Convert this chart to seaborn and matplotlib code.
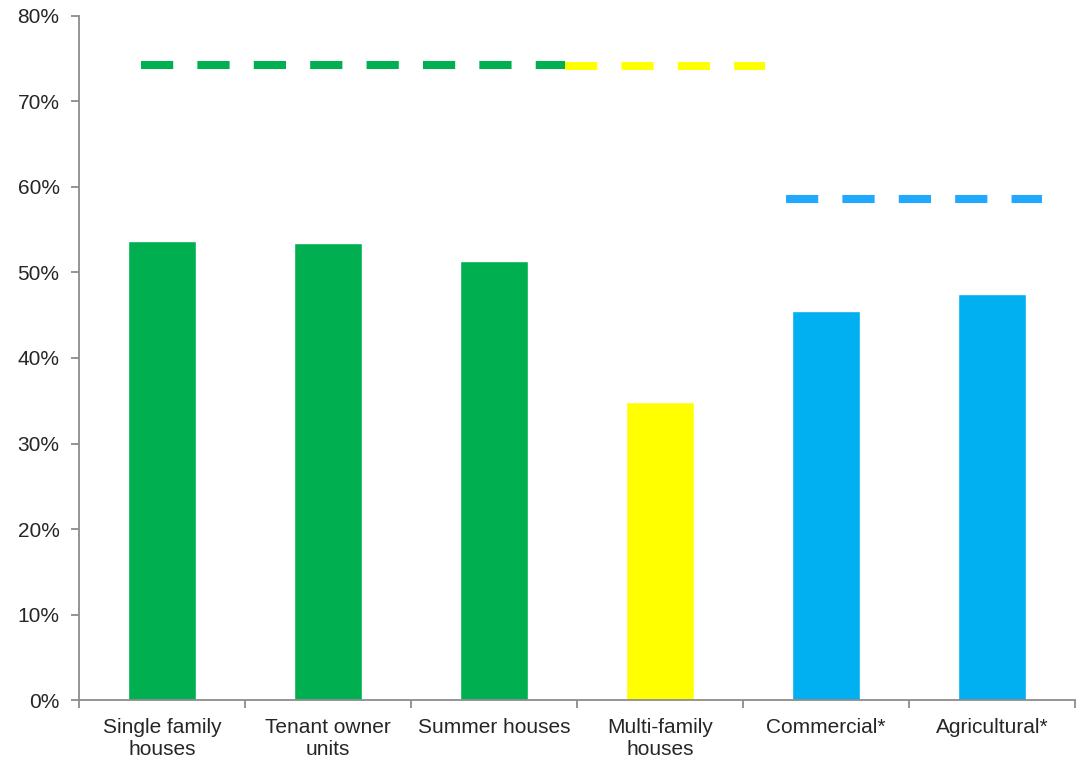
import matplotlib
matplotlib.use("Agg")
import matplotlib.pyplot as plt
import seaborn as sns
import pandas as pd
import numpy as np
from matplotlib.ticker import FuncFormatter, FixedLocator

# Property categories and their shares (percent)
categories = ["Single family\nhouses", "Tenant owner\nunits", "Summer houses",
              "Multi-family\nhouses", "Commercial*", "Agricultural*"]
shares = [53.7, 53.4, 51.3, 34.9, 45.5, 47.5]
bar_colors = ["#00B050", "#00B050", "#00B050", "#FFFF00", "#00B0F0", "#00B0F0"]

# Group reference levels (percent) with their spans along the category axis
group_levels = [74.3, 74.1, 58.6]
group_spans = [(-0.127, 2.43), (2.43, 3.63), (3.76, 5.30)]
group_colors = ["#00B050", "#FFFF00", "#21A9FF"]

sns.set_theme(style="white")
plt.rcParams["font.family"] = ["Liberation Sans", "DejaVu Sans"]
text_color = "#262626"
axis_color = "#8C8C8C"

fig = plt.figure(figsize=(10.8, 7.6), dpi=100)
ax = fig.add_axes([0.0731, 0.0789, 0.9223, 0.9001])

df = pd.DataFrame({"category": categories, "share": shares})
sns.barplot(data=df, x="category", y="share", hue="category",
            palette=bar_colors, width=0.405, saturation=1, legend=False, ax=ax)

for level, (x0, x1), col in zip(group_levels, group_spans, group_colors):
    ax.plot([x0, x1], [level, level], color=col, lw=5.8,
            dashes=(4, 3), solid_capstyle="butt", dash_capstyle="butt", zorder=3)

ax.set_xlim(-0.5, len(categories) - 0.5)
ax.set_ylim(0, 80)
ax.set_yticks(np.arange(0, 81, 10))
ax.yaxis.set_major_formatter(FuncFormatter(lambda v, p: f"{v:.0f}%"))

# Category labels centred, separator ticks between categories
ax.set_xticks(range(len(categories)))
ax.set_xticklabels(categories, linespacing=1.22)
ax.xaxis.set_minor_locator(FixedLocator(np.arange(-0.5, len(categories), 1.0)))
ax.tick_params(axis="x", which="major", length=0, pad=13, labelsize=15,
               labelcolor=text_color)
ax.tick_params(axis="x", which="minor", length=6, width=1.3, color=axis_color,
               direction="out", bottom=True)
ax.tick_params(axis="y", which="major", length=6, width=1.3, color=axis_color,
               direction="out", left=True, pad=8, labelsize=15,
               labelcolor=text_color)

ax.set_xlabel("")
ax.set_ylabel("")
for side in ("top", "right"):
    ax.spines[side].set_visible(False)
for side in ("left", "bottom"):
    ax.spines[side].set_color(axis_color)
    ax.spines[side].set_linewidth(1.3)
ax.grid(False)

fig.savefig("out.png", dpi=100)
